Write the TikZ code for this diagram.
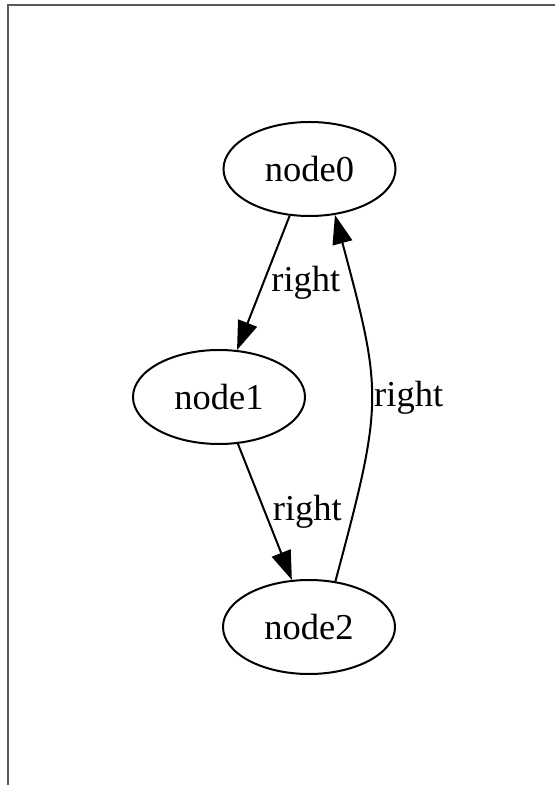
\documentclass[tikz,border=0pt]{standalone}
\usepackage{fontspec}
\setmainfont{Liberation Serif}
\usetikzlibrary{arrows.meta,shapes.geometric}
\tikzset{
    state/.style={ellipse,draw=black,line width=2pt,minimum width=172pt,minimum height=94pt,inner sep=0pt,font=\fontsize{36.5}{44}\selectfont},
    link/.style={draw=black,line width=2pt,-{Triangle[length=29pt,width=20pt]}},
    linklabel/.style={right,inner sep=1pt,font=\fontsize{36.5}{44}\selectfont},
    frameline/.style={draw=black!65,line width=2pt}
}
\begin{document}
\begin{tikzpicture}[x=1pt,y=1pt]
\useasboundingbox (0,0) rectangle (555,785);
\draw[frameline](555,780)--(8,780)--(8,0);
\node[state](node0) at (309.5,616){node0};
\node[state](node1) at (219,388){node1};
\node[state](node2) at (309,158){node2};
\draw[link](node0.-113)--(node1.69)node[linklabel,midway,xshift=6pt]{right};
\draw[link](node1.-68)--(node2.110)node[linklabel,midway,xshift=6pt]{right};
\draw[link](node2.60)to[out=75,in=-75,looseness=1.3]node[linklabel,midway,xshift=1pt]{right}(node0.-61);
\end{tikzpicture}
\end{document}
